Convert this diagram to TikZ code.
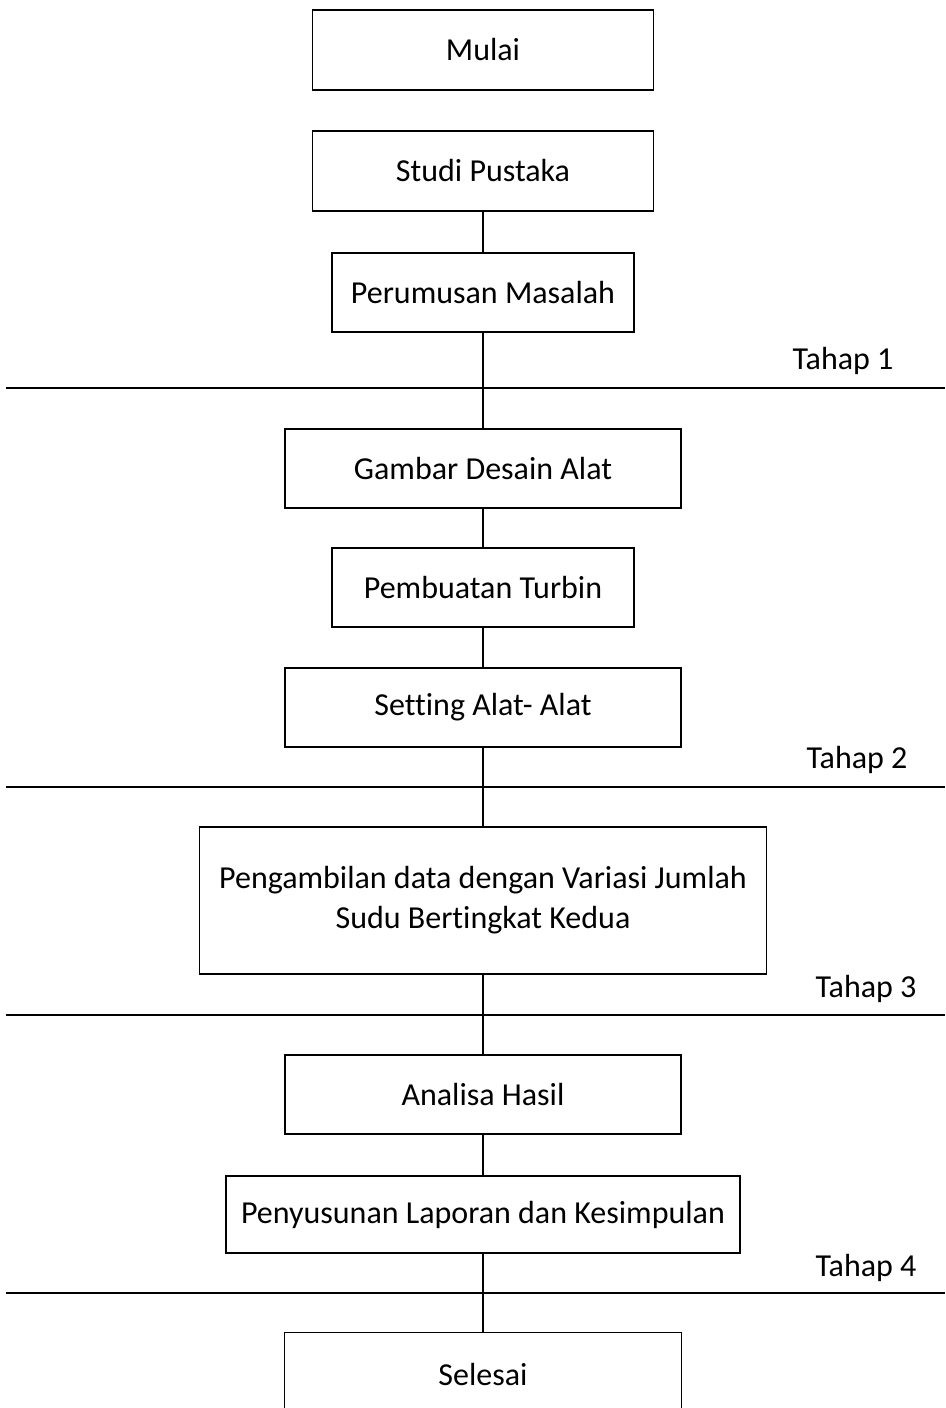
\documentclass[tikz,border=0pt]{standalone}
\usepackage{fontspec}
\setmainfont[Ligatures=NoCommon]{Carlito}
\begin{document}
\begin{tikzpicture}[x=1pt,y=-1pt,
  box/.style={draw=black,line width=1.4pt,inner sep=0pt,font=\fontsize{32}{40}\selectfont,align=center},
  conn/.style={draw=black,line width=1.3pt},
  sep/.style={draw=black,line width=1.8pt},
  lbl/.style={font=\fontsize{32}{38}\selectfont}]
\useasboundingbox (0,0) rectangle (945,1408);
\node[box,minimum width=341pt,minimum height=80pt] (mulai) at (483,50) {Mulai};
\node[box,minimum width=341pt,minimum height=80pt] (studi) at (483,171) {Studi Pustaka};
\node[box,minimum width=302pt,minimum height=79pt] (rumus) at (483,292.5) {Perumusan Masalah};
\node[box,minimum width=396pt,minimum height=79pt] (gambar) at (483,468.5) {Gambar Desain Alat};
\node[box,minimum width=302pt,minimum height=79pt] (turbin) at (483,587.5) {Pembuatan Turbin};
\node[box,minimum width=396pt,minimum height=79pt] (setting) at (483,707.5) {Setting Alat- Alat};
\node[box,minimum width=567pt,minimum height=147pt] (ambil) at (483,900.5) {Pengambilan data dengan Variasi Jumlah\\Sudu Bertingkat Kedua};
\node[box,minimum width=396pt,minimum height=79pt] (analisa) at (483,1094.5) {Analisa Hasil};
\node[box,minimum width=514pt,minimum height=77pt] (susun) at (483,1214.5) {Penyusunan Laporan dan Kesimpulan};
\node[box,minimum width=397pt,minimum height=100pt,anchor=north] (selesai) at (483,1332) {};
\node[font=\fontsize{32}{38}\selectfont] (selesaitext) at (483,1374) {Selesai};
% separators
\coordinate (s1l) at (6,388); \coordinate (s1r) at (945,388);
\coordinate (s2l) at (6,787); \coordinate (s2r) at (945,787);
\coordinate (s3l) at (6,1015); \coordinate (s3r) at (945,1015);
\coordinate (s4l) at (6,1293); \coordinate (s4r) at (945,1293);
\draw[sep] (s1l) -- (s1r);
\draw[sep] (s2l) -- (s2r);
\draw[sep] (s3l) -- (s3r);
\draw[sep] (s4l) -- (s4r);
\node[lbl] (t1) at (843,361) {Tahap 1};
\node[lbl] (t2) at (857,760) {Tahap 2};
\node[lbl] (t3) at (866,989) {Tahap 3};
\node[lbl] (t4) at (866,1268) {Tahap 4};
% connectors
\draw[conn] (studi.south) -- (rumus.north);
\draw[conn] (rumus.south) -- (gambar.north);
\draw[conn] (gambar.south) -- (turbin.north);
\draw[conn] (turbin.south) -- (setting.north);
\draw[conn] (setting.south) -- (ambil.north);
\draw[conn] (ambil.south) -- (analisa.north);
\draw[conn] (analisa.south) -- (susun.north);
\draw[conn] (susun.south) -- (selesai.north);
\end{tikzpicture}
\end{document}
